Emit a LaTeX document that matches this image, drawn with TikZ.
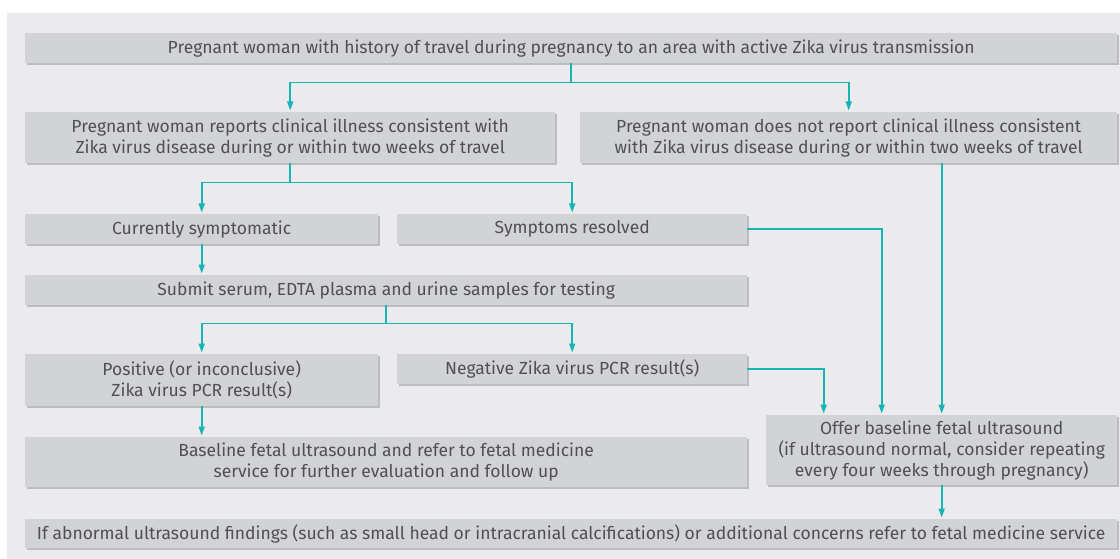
\documentclass[tikz,border=0pt]{standalone}
\usepackage{fontspec}
\setmainfont{Fira Sans}
\usetikzlibrary{positioning,arrows.meta,shadows}
\definecolor{panel}{RGB}{235,235,237}
\definecolor{boxfill}{RGB}{210,211,213}
\definecolor{boxshade}{RGB}{188,189,191}
\definecolor{flowteal}{RGB}{22,180,180}
\definecolor{txt}{RGB}{80,80,82}
\tikzset{
    box/.style={%
        fill=boxfill, text=txt,
        align=center, anchor=north west,
        minimum width=#1,
        inner sep=0pt,
        font=\fontsize{17.5}{21}\selectfont,
        drop shadow={shadow xshift=2pt, shadow yshift=-2pt, fill=boxshade, opacity=1}
        },
    box/.default=353pt,
    flow/.style={draw=flowteal, line width=1.6pt, -{Triangle[length=9pt,width=6pt]}, shorten >=1.5pt}
}

\begin{document}
\begin{tikzpicture}[x=1pt, y=-1pt]

\useasboundingbox (0,0) rectangle (1120,559);
\fill[panel] (7,13) rectangle (1120,559);

\node[box=1092pt, minimum height=30pt] (travel) at (25,33) {Pregnant woman with history of travel during pregnancy to an area with active Zika virus transmission};

\node[box=530pt, minimum height=51pt] (ill) at (25,112) {Pregnant woman reports clinical illness consistent with\\Zika virus disease during or within two weeks of travel};

\node[box=537pt, minimum height=51pt] (noill) at (580,112) {Pregnant woman does not report clinical illness consistent\\with Zika virus disease during or within two weeks of travel};

\node[box, minimum height=30pt] (current) at (25,214) {Currently symptomatic};

\node[box=350pt, minimum height=30pt] (resolved) at (397,214) {Symptoms resolved};

\node[box=722pt, minimum height=30pt] (samples) at (25,275) {Submit serum, EDTA plasma and urine samples for testing};

\node[box, minimum height=52pt] (positive) at (25,354) {Positive (or inconclusive)\\Zika virus PCR result(s)};

\node[box=350pt, minimum height=30pt] (negative) at (397,354) {Negative Zika virus PCR result(s)};

\node[box=722pt, minimum height=50pt] (refer) at (25,437) {Baseline fetal ultrasound and refer to fetal medicine\\service for further evaluation and follow up};

\node[box=351pt, minimum height=70pt] (offer) at (766,415) {Offer baseline fetal ultrasound\\(if ultrasound normal, consider repeating\\every four weeks through pregnancy)};

\node[box=1092pt, minimum height=29pt] (final) at (25,519) {If abnormal ultrasound findings (such as small head or intracranial calcifications) or additional concerns refer to fetal medicine service};

\draw[flow] (travel.south) -- ++(0,19) -| (ill.north);
\draw[flow] (travel.south) -- ++(0,19) -| (noill.north);

\draw[flow] (ill.south) -- ++(0,19) -| (current.north);
\draw[flow] (ill.south) -- ++(0,19) -| (resolved.north);

\draw[flow] (current.south) -- (current.south |- samples.north);

\draw[flow] (samples.south) -- ++(0,18) -| (positive.north);
\draw[flow] (samples.south) -- ++(0,18) -| (negative.north);

\draw[flow] (positive.south) -- (positive.south |- refer.north);

\draw[flow] (resolved.east) -| ([xshift=-60pt]offer.north);
\draw[flow] (negative.east) -| ([xshift=-118pt]offer.north);
\draw[flow] (offer.north |- noill.south) -- (offer.north);

\draw[flow] (offer.south) -- (offer.south |- final.north);

\end{tikzpicture}
\end{document}
